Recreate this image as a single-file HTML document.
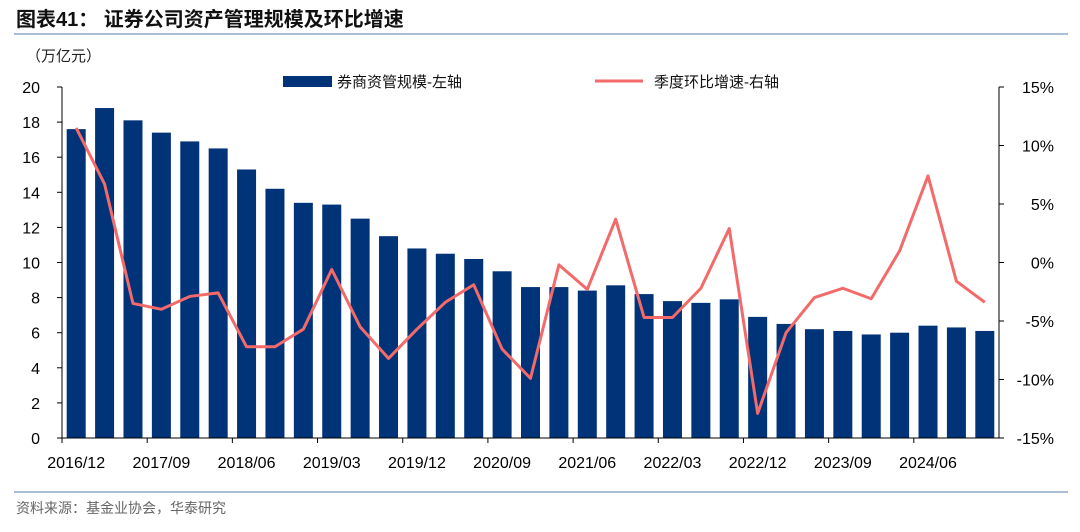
<!DOCTYPE html>
<html><head><meta charset="utf-8"><style>
body{margin:0;background:#fff;width:1080px;height:527px;overflow:hidden;font-family:"Liberation Sans","Noto Sans CJK SC",sans-serif}
</style></head><body>
<svg width="1080" height="527" xmlns="http://www.w3.org/2000/svg" font-family="Liberation Sans, Noto Sans CJK SC, sans-serif">
<text x="16" y="26" font-size="20" font-weight="bold" fill="#111">图表41：  证券公司资产管理规模及环比增速</text>
<line x1="14" y1="34" x2="1068" y2="34" stroke="#8fa8cc" stroke-width="1.5"/>
<text x="26" y="61" font-size="15" fill="#222">（万亿元）</text>
<g id="chart"></g>
<line x1="14" y1="492" x2="1068" y2="492" stroke="#8fa8cc" stroke-width="1.5"/>
<text x="16" y="513" font-size="14" fill="#666">资料来源：基金业协会，华泰研究</text>
</svg>
<script>
const categories=["2016/12","2017/03","2017/06","2017/09","2017/12","2018/03","2018/06","2018/09","2018/12","2019/03","2019/06","2019/09","2019/12","2020/03","2020/06","2020/09","2020/12","2021/03","2021/06","2021/09","2021/12","2022/03","2022/06","2022/09","2022/12","2023/03","2023/06","2023/09","2023/12","2024/03","2024/06","2024/09","2024/12"];
const aumValues=[17.6,18.8,18.1,17.4,16.9,16.5,15.3,14.2,13.4,13.3,12.5,11.5,10.8,10.5,10.2,9.5,8.6,8.6,8.4,8.7,8.2,7.8,7.7,7.9,6.9,6.5,6.2,6.1,5.9,6.0,6.4,6.3,6.1];
const growthValues=[11.5,6.7,-3.5,-4.0,-2.9,-2.6,-7.2,-7.2,-5.7,-0.6,-5.5,-8.2,-5.7,-3.4,-1.9,-7.4,-9.9,-0.2,-2.3,3.7,-4.7,-4.7,-2.2,2.9,-12.9,-6.0,-3.0,-2.2,-3.1,1.0,7.4,-1.6,-3.4];
const leftTicks=[0,2,4,6,8,10,12,14,16,18,20];
const rightTicks=[-15,-10,-5,0,5,10,15];
const ns="http://www.w3.org/2000/svg";
const g=document.getElementById('chart');
const X0=62,X1=999,Y0=438,Y1=87;
const step=(X1-X0)/categories.length;
const xc=i=>X0+step*(i+0.5);
const yl=v=>Y0-(v-0)/(20-0)*(Y0-Y1);
const yr=v=>Y0-(v+15)/30*(Y0-Y1);
function mk(t,a,p){const e=document.createElementNS(ns,t);for(const k in a)e.setAttribute(k,a[k]);(p||g).appendChild(e);return e;}
aumValues.forEach((v,i)=>{
 const r=mk('rect',{x:xc(i)-9.5,y:yl(v),width:19,height:Y0-yl(v),fill:'#003378'});
 
 
});
let d=growthValues.map((v,i)=>(i?'L':'M')+xc(i)+','+yr(v)).join(' ');
const ln=mk('path',{d:d,fill:'none',stroke:'#f26a6a','stroke-width':3,'stroke-linejoin':'round'});


// axes
const la=mk('line',{x1:X0,y1:Y1,x2:X0,y2:Y0,stroke:'#000'});

const ra=mk('line',{x1:X1,y1:Y1,x2:X1,y2:Y0,stroke:'#000'});

const xa=mk('line',{x1:X0,y1:Y0,x2:X1,y2:Y0,stroke:'#000'});

leftTicks.forEach(v=>{
 mk('line',{x1:X0-5,y1:yl(v),x2:X0,y2:yl(v),stroke:'#000'});
 const t=mk('text',{x:X0-22,y:yl(v)+6,'font-size':16,'text-anchor':'end',fill:'#000'});t.textContent=v;
 
});
rightTicks.forEach(v=>{
 mk('line',{x1:X1,y1:yr(v),x2:X1+5,y2:yr(v),stroke:'#000'});
 const t=mk('text',{x:1054,y:yr(v)+6,'font-size':16,'text-anchor':'end',fill:'#000'});t.textContent=v+'%';
 
});
categories.forEach((c,i)=>{
 if(i%3===0){
  mk('line',{x1:X0+step*i,y1:Y0,x2:X0+step*i,y2:Y0+5,stroke:'#000'});
  const t=mk('text',{x:xc(i),y:468,'font-size':16,'text-anchor':'middle',fill:'#000'});t.textContent=c;
  
 }
});
// legend
const l1=mk('rect',{x:283,y:76,width:49,height:11,fill:'#003378'});

const t1=mk('text',{x:337,y:87,'font-size':15,fill:'#111'});t1.textContent='券商资管规模-左轴';

const l2=mk('line',{x1:595,y1:81,x2:643,y2:81,stroke:'#f26a6a','stroke-width':3});

const t2=mk('text',{x:654,y:87,'font-size':15,fill:'#111'});t2.textContent='季度环比增速-右轴';

</script>
</body></html>
